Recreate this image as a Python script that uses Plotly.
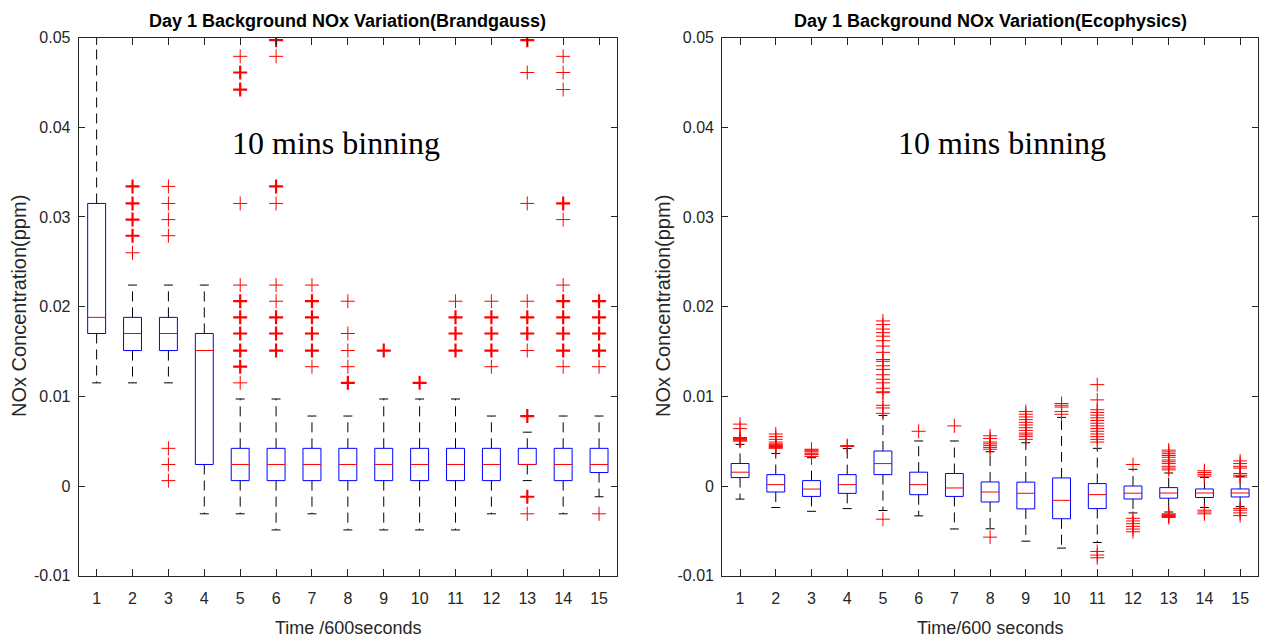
import collections
import plotly.graph_objects as go

# ---------------- data ----------------
groups = list(range(1, 16))
x_tick_labels = [str(g) for g in groups]
y_tick_vals = [0.05, 0.04, 0.03, 0.02, 0.01, 0.0, -0.01]
y_tick_labels = ["0.05", "0.04", "0.03", "0.02", "0.01", "0", "-0.01"]

# Brandgauss (left panel)
bg_q1 = [0.0170, 0.0151, 0.0151, 0.0024, 0.0006, 0.0006, 0.0006, 0.0006, 0.0006, 0.0006, 0.0006, 0.0006, 0.0024, 0.0006, 0.0015]
bg_med = [0.0188, 0.0170, 0.0170, 0.0151, 0.0024, 0.0024, 0.0024, 0.0024, 0.0024, 0.0024, 0.0024, 0.0024, 0.0024, 0.0024, 0.0024]
bg_q3 = [0.0315, 0.0188, 0.0188, 0.0170, 0.0042, 0.0042, 0.0042, 0.0042, 0.0042, 0.0042, 0.0042, 0.0042, 0.0042, 0.0042, 0.0042]
bg_lo = [0.0115, 0.0115, 0.0115, -0.0031, -0.0031, -0.0049, -0.0031, -0.0049, -0.0049, -0.0049, -0.0049, -0.0031, 0.0006, -0.0031, -0.0012]
bg_hi = [0.0520, 0.0224, 0.0224, 0.0224, 0.0097, 0.0097, 0.0078, 0.0078, 0.0097, 0.0097, 0.0097, 0.0078, 0.0060, 0.0078, 0.0078]
bg_out = [
    [],
    [0.0334, 0.0334, 0.0315, 0.0315, 0.0297, 0.0297, 0.0279, 0.0279, 0.0260],
    [0.0334, 0.0315, 0.0297, 0.0279, 0.0042, 0.0024, 0.0006],
    [],
    [0.0479, 0.0461, 0.0461, 0.0442, 0.0442, 0.0315, 0.0224, 0.0206, 0.0206, 0.0188, 0.0188,
     0.0170, 0.0170, 0.0151, 0.0151, 0.0133, 0.0133, 0.0115],
    [0.0497, 0.0497, 0.0479, 0.0334, 0.0334, 0.0315, 0.0224, 0.0206, 0.0188, 0.0188, 0.0170, 0.0170, 0.0151, 0.0151],
    [0.0224, 0.0206, 0.0206, 0.0188, 0.0188, 0.0170, 0.0170, 0.0151, 0.0151, 0.0133],
    [0.0206, 0.0170, 0.0151, 0.0133, 0.0115, 0.0115],
    [0.0151, 0.0151],
    [0.0115, 0.0115],
    [0.0206, 0.0188, 0.0188, 0.0170, 0.0170, 0.0151, 0.0151],
    [0.0206, 0.0188, 0.0188, 0.0170, 0.0170, 0.0151, 0.0151, 0.0133],
    [0.0497, 0.0497, 0.0461, 0.0315, 0.0206, 0.0188, 0.0188, 0.0170, 0.0170, 0.0151,
     0.0078, 0.0078, -0.0012, -0.0012, -0.0031],
    [0.0479, 0.0461, 0.0442, 0.0315, 0.0315, 0.0297, 0.0224, 0.0206, 0.0206, 0.0188, 0.0188,
     0.0170, 0.0170, 0.0151, 0.0151, 0.0133],
    [0.0206, 0.0206, 0.0188, 0.0188, 0.0170, 0.0170, 0.0151, 0.0151, 0.0133, -0.0031],
]

# Ecophysics (right panel)
eco_q1 = [0.00094, -0.00067, -0.00116, -0.00082, 0.00127, -0.00097, -0.00116, -0.00178, -0.00255, -0.00365, -0.00252, -0.00145, -0.00136, -0.00128, -0.00122]
eco_med = [0.00154, 0.00015, -0.00034, 0.00015, 0.00250, 0.00015, -0.00022, -0.00067, -0.00081, -0.00160, -0.00096, -0.00080, -0.00078, -0.00078, -0.00078]
eco_q3 = [0.00251, 0.00127, 0.00060, 0.00127, 0.00390, 0.00154, 0.00139, 0.00045, 0.00043, 0.00090, 0.00027, 0.00000, -0.00018, -0.00033, -0.00033]
eco_lo = [-0.00146, -0.00240, -0.00282, -0.00252, -0.00273, -0.00333, -0.00479, -0.00477, -0.00615, -0.00692, -0.00630, -0.00300, -0.00290, -0.00240, -0.00230]
eco_hi = [0.00464, 0.00363, 0.00315, 0.00417, 0.00787, 0.00502, 0.00502, 0.00382, 0.00482, 0.00765, 0.00420, 0.00186, 0.00145, 0.00095, 0.00105]
eco_out = [
    [0.0069, 0.0064, 0.0054, 0.0053, 0.0052, 0.0051, 0.0050],
    [0.0058, 0.0055, 0.0052, 0.0049, 0.0047, 0.0046, 0.0045, 0.0044, 0.0043, 0.0042],
    [0.0041, 0.0040, 0.0039, 0.0038, 0.0036, 0.0035, 0.0033],
    [0.0045, 0.0044],
    [0.0184, 0.0180, 0.0175, 0.0171, 0.0167, 0.0162, 0.0156, 0.0149, 0.0141, 0.0139, 0.0134,
     0.0130, 0.0124, 0.0119, 0.0115, 0.0109, 0.0105, 0.0104, 0.0090, 0.0087, 0.0081, -0.0037],
    [0.0061],
    [0.0067],
    [0.0056, 0.0053, 0.0049, 0.0047, 0.0045, 0.0043, 0.0041, -0.0057],
    [0.0083, 0.0080, 0.0077, 0.0074, 0.0071, 0.0068, 0.0065, 0.0062, 0.0059, 0.0057, 0.0055, 0.0052],
    [0.0092, 0.0090, 0.0088, 0.0083, 0.0080],
    [0.0113, 0.0096, 0.0085, 0.0082, 0.0079, 0.0076, 0.0073, 0.0070, 0.0067, 0.0064, 0.0061,
     0.0058, 0.0055, 0.0052, 0.0049, -0.0073, -0.0077, -0.0080],
    [0.0024, -0.0036, -0.0039, -0.0042, -0.0045, -0.0048, -0.0051],
    [0.0040, 0.0038, 0.0036, 0.0034, 0.0032, 0.0029, 0.0027, 0.0025, 0.0022, 0.0020, 0.0018,
     -0.0031, -0.0032, -0.0033, -0.0034, -0.0035],
    [0.0017, 0.0015, 0.0013, 0.0011, -0.0027, -0.0029, -0.0031],
    [0.0028, 0.0025, 0.0022, 0.0020, 0.0014, 0.0012, 0.0010, -0.0025, -0.0027, -0.0030, -0.0033],
]

titles = ["Day 1 Background NOx Variation(Brandgauss)", "Day 1 Background NOx Variation(Ecophysics)"]
x_titles = ["Time /600seconds", "Time/600 seconds"]
y_title = "NOx Concentration(ppm)"
note = "10 mins binning"

# ---------------- styling ----------------
BOX_W = 0.5
CAP_W = 0.25
AX = "#262626"
SANS = "Liberation Sans, Arial, sans-serif"

fig = go.Figure()


def add_panel(xa, ya, q1, med, q3, lo, hi, outs):
    wx, wy, cx, cy, bx, by, mx, my = [], [], [], [], [], [], [], []
    for g, a, m, b, l, h in zip(groups, q1, med, q3, lo, hi):
        wx += [g, g, None, g, g, None]
        wy += [b, h, None, a, l, None]
        cx += [g - CAP_W / 2, g + CAP_W / 2, None, g - CAP_W / 2, g + CAP_W / 2, None]
        cy += [h, h, None, l, l, None]
        x0, x1 = g - BOX_W / 2, g + BOX_W / 2
        bx += [x0, x1, x1, x0, x0, None]
        by += [a, a, b, b, a, None]
        mx += [x0, x1, None]
        my += [m, m, None]
    common = dict(xaxis=xa, yaxis=ya, mode="lines", hoverinfo="skip", showlegend=False)
    fig.add_trace(go.Scatter(x=wx, y=wy, line=dict(color="black", width=1, dash="10px,6px"), **common))
    fig.add_trace(go.Scatter(x=cx, y=cy, line=dict(color="black", width=1), **common))
    fig.add_trace(go.Scatter(x=bx, y=by, line=dict(color="#0000ff", width=1), **common))
    fig.add_trace(go.Scatter(x=mx, y=my, line=dict(color="#ff0000", width=1), **common))
    sx, sy, dx, dy = [], [], [], []
    for g, vals in zip(groups, outs):
        for v, n in collections.Counter(vals).items():
            if n > 1:
                dx.append(g); dy.append(v)
            else:
                sx.append(g); sy.append(v)
    fig.add_trace(go.Scatter(x=sx, y=sy, xaxis=xa, yaxis=ya, mode="markers", showlegend=False,
                             marker=dict(symbol="cross-thin-open", size=10, color="#ff0000",
                                         line=dict(color="#ff0000", width=1))))
    fig.add_trace(go.Scatter(x=dx, y=dy, xaxis=xa, yaxis=ya, mode="markers", showlegend=False,
                             marker=dict(symbol="cross-thin-open", size=10, color="#ff0000",
                                         line=dict(color="#ff0000", width=2.2))))


add_panel("x", "y", bg_q1, bg_med, bg_q3, bg_lo, bg_hi, bg_out)
add_panel("x2", "y2", eco_q1, eco_med, eco_q3, eco_lo, eco_hi, eco_out)

W, H = 1265, 639
dom_left = [78.7 / W, 617.0 / W]
dom_right = [722.2 / W, 1258.0 / W]
dom_y = [1 - 575.7 / H, 1 - 37.5 / H]

xcommon = dict(range=[0.5, 15.5], tickvals=groups, ticktext=x_tick_labels, ticks="inside",
               ticklen=7, tickcolor=AX, showline=True, linecolor=AX, linewidth=1, mirror="ticks",
               showgrid=False, zeroline=False, tickfont=dict(family=SANS, size=16, color=AX),
               ticklabelstandoff=8, automargin=False)
ycommon = dict(range=[-0.01, 0.05], tickvals=y_tick_vals, ticktext=y_tick_labels, ticks="inside",
               ticklen=6, tickcolor=AX, showline=True, linecolor=AX, linewidth=1, mirror="ticks",
               showgrid=False, zeroline=False, tickfont=dict(family=SANS, size=16, color=AX),
               ticklabelstandoff=4, automargin=False)

annotations = []
for dom, title, xt, xref, yref, nx, ylx in [
    (dom_left, titles[0], x_titles[0], "x", "y", 7.67, 19),
    (dom_right, titles[1], x_titles[1], "x2", "y2", 8.33, 663),
]:
    cxp = (dom[0] + dom[1]) / 2
    annotations.append(dict(text="<b>" + title + "</b>", x=cxp, y=1 - 21 / H, xref="paper", yref="paper",
                            xanchor="center", yanchor="middle", showarrow=False,
                            font=dict(family=SANS, size=18, color="black")))
    annotations.append(dict(text=xt, x=cxp, y=1 - 628 / H, xref="paper", yref="paper",
                            xanchor="center", yanchor="middle", showarrow=False,
                            font=dict(family=SANS, size=18, color=AX)))
    annotations.append(dict(text=y_title, x=ylx / W, y=1 - 306 / H, xref="paper", yref="paper",
                            xanchor="center", yanchor="middle", textangle=-90, showarrow=False,
                            font=dict(family=SANS, size=20, color=AX)))
    annotations.append(dict(text=note, x=nx, y=0.0382, xref=xref, yref=yref,
                            xanchor="center", yanchor="middle", showarrow=False,
                            font=dict(family="Liberation Serif, Times New Roman, serif", size=32, color="black")))

fig.update_layout(
    width=W, height=H, margin=dict(l=0, r=0, t=0, b=0, pad=0, autoexpand=False),
    paper_bgcolor="white", plot_bgcolor="white", showlegend=False,
    xaxis=dict(domain=dom_left, anchor="y", **xcommon),
    yaxis=dict(domain=dom_y, anchor="x", **ycommon),
    xaxis2=dict(domain=dom_right, anchor="y2", **xcommon),
    yaxis2=dict(domain=dom_y, anchor="x2", **ycommon),
    annotations=annotations,
)

fig.write_html("out.html")
